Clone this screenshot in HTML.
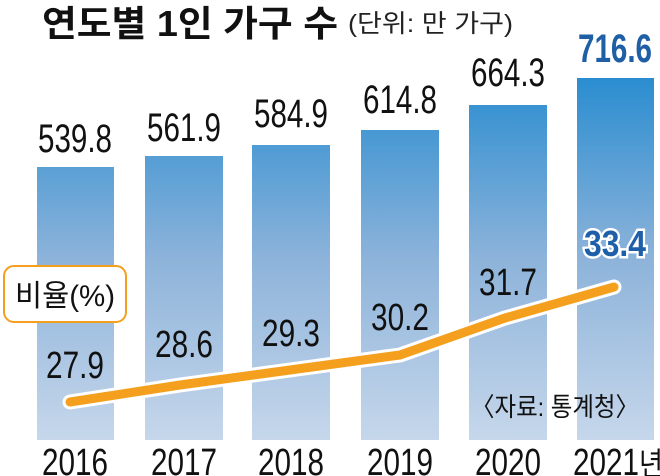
<!DOCTYPE html>
<html><head><meta charset="utf-8"><style>
html,body{margin:0;padding:0;background:#fff;}
svg{display:block;}
text{font-family:"Liberation Sans","Noto Sans CJK KR",sans-serif;}
</style></head><body>
<svg width="660" height="476" viewBox="0 0 660 476" xmlns="http://www.w3.org/2000/svg">
<defs>
<linearGradient id="g1" gradientUnits="userSpaceOnUse" x1="0" y1="78" x2="0" y2="440">
<stop offset="0" stop-color="#2a8dd0"/>
<stop offset="0.5" stop-color="#8db3da"/>
<stop offset="1" stop-color="#c6d7eb"/>
</linearGradient>
</defs>
<text x="42" y="36" font-size="36" font-weight="bold" fill="#111" textLength="296" lengthAdjust="spacingAndGlyphs">연도별 1인 가구 수</text>
<text x="348" y="32" font-size="25" fill="#222" textLength="165" lengthAdjust="spacingAndGlyphs">(단위: 만 가구)</text>
<g fill="url(#g1)">
<rect x="37" y="167" width="77" height="273"/>
<rect x="145" y="156" width="78" height="284"/>
<rect x="252" y="145" width="78" height="295"/>
<rect x="361" y="130" width="78" height="310"/>
<rect x="469" y="105" width="78" height="335"/>
<rect x="577" y="78" width="77" height="362"/>
</g>
<g font-size="40" fill="#111" text-anchor="middle">
<text x="75" y="152" textLength="74" lengthAdjust="spacingAndGlyphs">539.8</text>
<text x="184" y="141" textLength="74" lengthAdjust="spacingAndGlyphs">561.9</text>
<text x="291" y="127" textLength="74" lengthAdjust="spacingAndGlyphs">584.9</text>
<text x="400" y="113" textLength="74" lengthAdjust="spacingAndGlyphs">614.8</text>
<text x="508" y="86" textLength="74" lengthAdjust="spacingAndGlyphs">664.3</text>
<text x="615" y="62" textLength="74" lengthAdjust="spacingAndGlyphs" fill="#1f5fa6" font-weight="bold">716.6</text>
</g>
<g font-size="38" fill="#111" text-anchor="middle">
<text x="75" y="378" textLength="58" lengthAdjust="spacingAndGlyphs">27.9</text>
<text x="184" y="357" textLength="58" lengthAdjust="spacingAndGlyphs">28.6</text>
<text x="291" y="346" textLength="58" lengthAdjust="spacingAndGlyphs">29.3</text>
<text x="400" y="330" textLength="58" lengthAdjust="spacingAndGlyphs">30.2</text>
<text x="508" y="295" textLength="58" lengthAdjust="spacingAndGlyphs">31.7</text>
</g>
<text x="615" y="256" font-size="36" font-weight="bold" text-anchor="middle" fill="#1d5fa8" stroke="#fff" stroke-width="5" paint-order="stroke" textLength="62" lengthAdjust="spacingAndGlyphs">33.4</text>
<polyline points="70,402 180,385 290,370 400,355 505,318 614,287" fill="none" stroke="#fff" stroke-width="15" stroke-linecap="round" stroke-linejoin="round"/>
<polyline points="70,402 180,385 290,370 400,355 505,318 614,287" fill="none" stroke="#f4a01e" stroke-width="9" stroke-linecap="round" stroke-linejoin="round"/>
<rect x="4" y="266" width="122" height="56" rx="10" fill="#fff" stroke="#f4a01e" stroke-width="2"/>
<text x="65" y="306" font-size="30" text-anchor="middle" fill="#111" textLength="100" lengthAdjust="spacingAndGlyphs">비율(%)</text>
<text x="555" y="416" font-size="26" text-anchor="middle" fill="#111" textLength="168" lengthAdjust="spacingAndGlyphs">〈자료: 통계청〉</text>
<g font-size="38" fill="#111" text-anchor="middle">
<text x="75" y="475" textLength="66" lengthAdjust="spacingAndGlyphs">2016</text>
<text x="184" y="475" textLength="66" lengthAdjust="spacingAndGlyphs">2017</text>
<text x="291" y="475" textLength="66" lengthAdjust="spacingAndGlyphs">2018</text>
<text x="400" y="475" textLength="66" lengthAdjust="spacingAndGlyphs">2019</text>
<text x="508" y="475" textLength="66" lengthAdjust="spacingAndGlyphs">2020</text>
<text x="606" y="475" textLength="66" lengthAdjust="spacingAndGlyphs">2021</text>
</g>
<text x="639" y="475" font-size="32" fill="#111" textLength="24" lengthAdjust="spacingAndGlyphs">년</text>
</svg>
</body></html>
